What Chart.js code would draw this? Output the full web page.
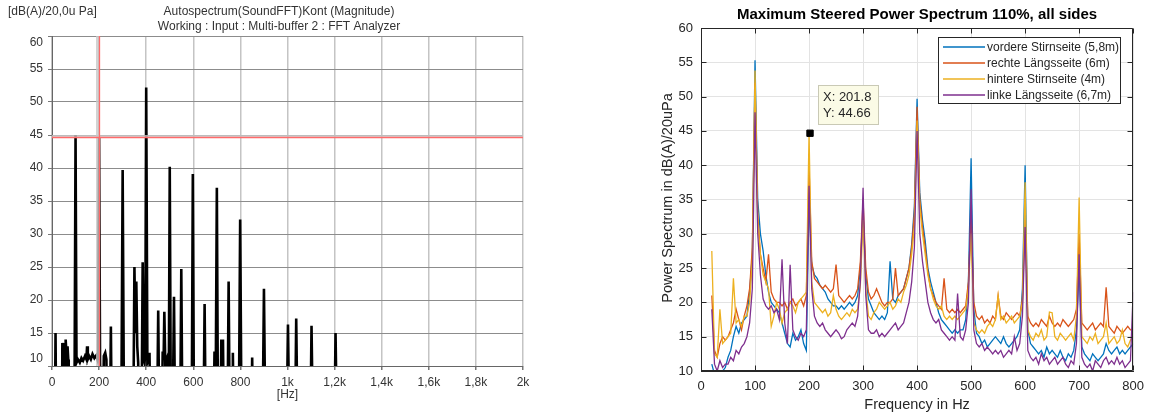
<!DOCTYPE html>
<html><head><meta charset="utf-8">
<script src="https://cdn.jsdelivr.net/npm/chart.js@4.4.1/dist/chart.umd.min.js"></script>
<style>
html,body{margin:0;padding:0;background:#fff;width:1152px;height:415px;overflow:hidden}
#c1{position:absolute;left:0;top:0}
#c2{position:absolute;left:600px;top:0}
</style></head><body>
<canvas id="c1" width="560" height="415"></canvas>
<canvas id="c2" width="552" height="415"></canvas>
<script>
// ---------- LEFT CHART DATA ----------
const leftTitle1 = 'Autospectrum(SoundFFT)Kont (Magnitude)';
const leftTitle2 = 'Working : Input : Multi-buffer 2 : FFT Analyzer';
const leftUnit = '[dB(A)/20,0u Pa]';
const leftXUnit = '[Hz]';
const leftXTicks = [0,200,400,600,800,1000,1200,1400,1600,1800,2000];
const leftXTickLabels = ['0','200','400','600','800','1k','1,2k','1,4k','1,6k','1,8k','2k'];
const leftYTicks = [10,15,20,25,30,35,40,45,50,55,60];
const leftFreq = [0, 12,15,18, 42,44,47,50,53, 56,58,61,64,66,69,71,
  95,100,104,110,118,125,132,140,146,149,152,158,165,172,180,188,193,196,200,204,210,
  216,220,226,231,235, 246,250,254, 294,300,306, 345,350,354,358,362,366,370,
  380,385,389,393,396,400,405,410,414,418, 446,451,456, 466,470,474,477,481,486,490,
  495,500,505, 512,518,523, 544,549,554, 593,598,603, 643,648,653,
  686,690,694,695,700,705, 715,719,722,726,730, 745,750,755, 765,768,772,
  793,799,805, 846,850,854, 894,900,906, 996,1002,1008, 1032,1037,1043,
  1097,1102,1108, 1199,1204,1210, 2000];
const leftLevel = [0, 0,15,0, 0,13.5,12.5,13.5,0, 0,14,12,11,13,11,0,
  0,45,10.5,11,10.5,11.2,10.8,11.5,11,13,11,11.5,11,11.8,11.2,11.6,11,12,44.7,10.5,0,
  0,11.5,12,11,0, 0,16,0, 0,39.7,0, 0,25,15,22.8,13,10.5,0,
  0,25.7,11,10.5,12,52.2,10.5,11,12,0, 0,18.4,0, 0,12.2,11,18.2,10.5,11,0,
  0,40.2,0, 0,20.5,0, 0,24.7,0, 0,39.1,0, 0,19.4,0,
  0,12.2,0,0,37,0, 0,14,12.5,14,0, 0,22.8,0, 0,12,0,
  0,32.2,0, 0,11.3,0, 0,21.7,0, 0,16.3,0, 0,17.2,0,
  0,16.1,0, 0,15,0, 0];
const leftCursorX = 201.8;
const leftCursorY = 44.66;

// ---------- RIGHT CHART DATA ----------
const rightTitle = 'Maximum Steered Power Spectrum 110%, all sides';
const rightXLabel = 'Frequency in Hz';
const rightYLabel = 'Power Spectrum in dB(A)/20uPa';
const rightSeriesNames = ['vordere Stirnseite (5,8m)','rechte Längsseite (6m)','hintere Stirnseite (4m)','linke Längsseite (6,7m)'];
const rightFreq = [20,25,30,35,40,45,
 50,55,60,65,70,75,80,85,90,95,
 100,105,110,115,120,125,130,135,140,145,
 150,155,160,165,170,175,180,185,190,195,
 200,205,210,215,220,225,230,235,240,245,
 250,255,260,265,270,275,280,285,290,295,
 300,305,310,315,320,325,330,335,340,345,
 350,355,360,365,370,375,380,385,390,395,
 400,405,410,415,420,425,430,435,440,445,
 450,455,460,465,470,475,480,485,490,495,
 500,505,510,515,520,525,530,535,540,545,
 550,555,560,565,570,575,580,585,590,595,
 600,605,610,615,620,625,630,635,640,645,
 650,655,660,665,670,675,680,685,690,695,
 700,705,710,715,720,725,730,735,740,745,
 750,755,760,765,770,775,780,785,790,795,
 800];
const vordere = [11,9.5,9,9,10,10.5,
 12,13,15,16.5,15.5,17,17.5,18,21.5,27,
 55.3,35,30,27.5,24,21.5,20,19.5,19,18.5,
 17,15.5,14,13.5,15.5,14.5,15,16,14,13,
 35,25.5,24,23.5,22.5,22,21.5,20.5,20,19.5,
 19.5,19,19.5,19,19.5,20,19.5,20,21,25,
 33,24,20.5,19.5,18.5,18,17.5,18,17.5,18.5,
 26,20.5,20,21,21.5,22,23.5,25,28.5,34,
 49.7,36,32,29,25,23,21.5,20,18.5,17.5,
 17,16.5,16,15.5,16,15.5,16,16,17.5,23,
 41,19,15.5,15,14,14.5,13.5,14,14.5,15,
 14.5,14,15,14,13.5,14,14.5,15,16,22,
 40,16,14,13.5,13,12.5,13,12,13.5,12.5,
 13,12.5,12,13,12,11.5,12.5,12,13,16,
 25,13.5,12.5,12,11.5,12.5,12,11.5,12,12.5,
 14,13,12.5,13,13.5,12.5,13,12.5,13,13.5,
 14];
const rechte = [21,13,12,14,15,14.5,
 15,16,17,19,17.5,16,18,19.5,22,28,
 52,33,27,25,23,27,21.5,20.5,20,20,
 19.5,20,19,20,20.5,19.5,20,20.5,19.5,21,
 40,26,23.5,23,22.5,22,22.5,22,21.5,22,
 25.5,21,20.5,20,20.5,21,20.5,21,22,26,
 35,25,21.5,20.5,21,22,21,20,19.5,20,
 20,20.5,25,21,21.5,22,23.5,25,28,33,
 48.5,35,31,28,24.5,22,21,20,19.5,19,
 23.5,19,18.5,19,18.5,19,18.5,19,19.5,23,
 33,20,18,17.5,18,17,17.5,17,18,17.5,
 21,18,17.5,18.5,18,17.5,18,18.5,18,20.5,
 32,18,17,16.5,17,16.5,17.5,17,16.5,18,
 17,16.5,17,16.5,17.5,17,16.5,17,17.5,19,
 30,17,16.5,16,16.5,17,16,16.5,17,16.5,
 22.2,16.5,16,15.5,16.5,16,15.5,16,16.5,16,
 16];
const hintere = [27.5,12.5,12,19,14,14.5,
 15,15.5,23.5,17,17.5,16.5,18,18,20,26,
 53.8,32,27,24,23,22,16.5,18,20,19,
 17,18.5,19,20,19.5,18.5,20,20.5,21,21.5,
 44.66,23,20,19.5,19,18.5,19,18,18.5,21,
 19,18,17.5,18,18.5,18,19,18.5,19,22.5,
 32,22,18,17.5,18.5,19,20,19.5,19,19.5,
 20,19,19.5,20.5,20,21.5,22.5,24,27,31,
 46.5,34,30,27,24,22,20.5,19.5,19,19.5,
 18,17.5,18,17.5,18,17.5,18,18.5,19,22,
 30,17,16,15.5,16,15.5,16.5,17,16.5,17.5,
 21,17.5,18,17,17.5,18,17,17.5,18,20,
 37.5,16,15,14.5,15.5,15,16,14.5,15,18.6,
 18.5,15,14.5,15.5,15,14.5,15,15.5,14.5,18,
 35.3,15,14.5,14,15,14.5,15.5,14,14.5,15,
 17,14,14.5,15,14,14.5,16,14,13.5,14.5,
 15];
const linke = [19,11,10,11.5,10.5,11,
 11,12,11.5,13,12.5,13.5,14,15,17,22,
 47.7,30,24,20.5,19.5,19,19.5,18.5,19,17.5,
 26.3,17,14,25.5,16,15,14.5,15.5,15,16,
 37,22,18,17,16.5,17,16,15.5,15,15.5,
 16,15.5,14.7,15,16,16.5,17,16.5,18,23,
 36.7,21,16,15.5,15.5,16,15,15.5,15,15.5,
 16,16.5,17,16,16.5,17,18.5,20,23,28,
 45,30,26,23,20,18.5,17.5,17,17.5,16,
 15.5,15,14.5,15,14.5,21.3,15,14.5,16,20,
 36.5,16,14,13.5,14,13,13.5,13,12.5,13,
 12.5,13,12,12.5,13,12.5,15,13,14,18,
 31,13,12,11.5,12,11,12.5,11.5,12,11,
 11.5,12,11,11.5,12,11,10.5,11.5,11,14,
 27,12,11,10.5,11,10,11.5,11,10.5,11.5,
 12,11,11.5,11,12,11,11.5,10.5,11,11.5,
 21.5];
const rightColors = ['#0072BD','#D95319','#EDB120','#7E2F8E'];
const rightXTicks = [0,100,200,300,400,500,600,700,800];
const rightYTicks = [10,15,20,25,30,35,40,45,50,55,60];
const tipX = 201.8;
const tipY = 44.66;

const FONT = "'Liberation Sans', Arial, sans-serif";
const pts = (xs, ys) => xs.map((x, i) => ({x, y: ys[i]}));

// ---------- LEFT CHART ----------
const leftDecor = {
  id: 'leftDecor',
  afterDatasetsDraw(chart) {
    const {ctx, chartArea: a, scales: {x, y}} = chart;
    const cx = Math.round(x.getPixelForValue(leftCursorX));
    const cy = Math.round(y.getPixelForValue(leftCursorY));
    ctx.save();
    ctx.fillStyle = 'rgba(200,200,200,0.8)';
    ctx.fillRect(a.left, cy - 2, a.right - a.left, 3);
    ctx.fillRect(cx - 4, a.top, 3, a.bottom - a.top);
    ctx.strokeStyle = '#ff6a6a';
    ctx.lineWidth = 1.3;
    ctx.beginPath();
    ctx.moveTo(a.left, cy + 0.5); ctx.lineTo(a.right, cy + 0.5);
    ctx.moveTo(cx - 0.5, a.top); ctx.lineTo(cx - 0.5, a.bottom);
    ctx.stroke();
    ctx.restore();
  },
  afterDraw(chart) {
    const {ctx, scales: {x, y}} = chart;
    ctx.save();
    ctx.fillStyle = '#333';
    ctx.font = '12px ' + FONT;
    ctx.textBaseline = 'middle';
    ctx.textAlign = 'left';
    ctx.fillText(leftUnit, 8, 12);
    ctx.textAlign = 'center';
    ctx.fillText(leftTitle1, 279, 12);
    ctx.fillText(leftTitle2, 279, 27);
    ctx.fillText(leftXUnit, x.getPixelForValue(1000), 395);
    // end labels of the y axis sit inside the range, as in the original
    ctx.textAlign = 'right';
    ctx.fillText(String(y.max), 43, y.getPixelForValue(y.max) + 7);
    ctx.fillText(String(y.min), 43, y.getPixelForValue(y.min) - 7);
    ctx.restore();
  }
};

new Chart(document.getElementById('c1'), {
  type: 'line',
  data: { datasets: [{
    data: pts(leftFreq, leftLevel),
    borderColor: '#000', borderWidth: 2.6, pointRadius: 0, tension: 0, clip: 0
  }]},
  options: {
    responsive: false, animation: false, events: [], devicePixelRatio: 1,
    layout: { padding: { left: 0, right: 37, top: 36, bottom: 0 } },
    plugins: { legend: { display: false }, tooltip: { enabled: false }, title: { display: false } },
    scales: {
      x: {
        type: 'linear', min: 0, max: 2000,
        afterBuildTicks: s => { s.ticks = leftXTicks.map(v => ({ value: v })); },
        afterFit: s => { s.height = 49; },
        ticks: { callback: (v, i) => leftXTickLabels[i], font: { family: FONT, size: 12 }, color: '#333', padding: 5, maxRotation: 0, autoSkip: false },
        grid: { color: '#c4c4c4', lineWidth: 1.5, tickLength: 4, tickColor: '#777' },
        border: { color: '#666', width: 1 }
      },
      y: {
        min: 10, max: 60,
        afterBuildTicks: s => { s.ticks = leftYTicks.map(v => ({ value: v })); },
        afterFit: s => { s.width = 52; },
        ticks: { callback: (v) => (v === 10 || v === 60) ? '' : String(v), font: { family: FONT, size: 12 }, color: '#333', padding: 5 },
        grid: { color: '#8c8c8c', lineWidth: 1, tickLength: 4, tickColor: '#777' },
        border: { color: '#666', width: 1 }
      }
    }
  },
  plugins: [leftDecor]
});

// ---------- RIGHT CHART ----------
const rightDecor = {
  id: 'rightDecor',
  afterDraw(chart) {
    const {ctx, chartArea: a, scales: {x, y}} = chart;
    ctx.save();
    const L = Math.round(a.left) + 0.5, R = Math.round(a.right) - 0.5;
    const T = Math.round(a.top) + 0.5, B = Math.round(a.bottom) - 0.5;
    ctx.strokeStyle = '#262626'; ctx.lineWidth = 1;
    ctx.beginPath();
    ctx.rect(L, T, R - L, B - T);
    x.ticks.forEach(t => {
      const p = Math.round(x.getPixelForValue(t.value)) + 0.5;
      ctx.moveTo(p, B); ctx.lineTo(p, B - 5);
      ctx.moveTo(p, T); ctx.lineTo(p, T + 5);
    });
    y.ticks.forEach(t => {
      const p = Math.round(y.getPixelForValue(t.value)) + 0.5;
      ctx.moveTo(L, p); ctx.lineTo(L + 5, p);
      ctx.moveTo(R, p); ctx.lineTo(R - 5, p);
    });
    ctx.stroke();

    // titles
    ctx.fillStyle = '#000';
    ctx.textAlign = 'center'; ctx.textBaseline = 'middle';
    ctx.font = 'bold 15px ' + FONT;
    ctx.fillText(rightTitle, (a.left + a.right) / 2, 15);
    ctx.fillStyle = '#262626';
    ctx.font = '14.5px ' + FONT;
    ctx.fillText(rightXLabel, (a.left + a.right) / 2, 405);
    ctx.save();
    ctx.translate(68, 198);
    ctx.rotate(-Math.PI / 2);
    ctx.fillText(rightYLabel, 0, 0);
    ctx.restore();

    // legend
    const lx = 338, ly = 37, lw = 182, lh = 66;
    ctx.fillStyle = '#fff';
    ctx.fillRect(lx, ly, lw, lh);
    ctx.strokeStyle = '#262626'; ctx.lineWidth = 1;
    ctx.strokeRect(lx + 0.5, ly + 0.5, lw, lh);
    ctx.font = '12px ' + FONT;
    ctx.textAlign = 'left';
    rightSeriesNames.forEach((n, i) => {
      const yy = ly + 10 + i * 16;
      ctx.beginPath();
      ctx.strokeStyle = rightColors[i]; ctx.lineWidth = 1.6;
      ctx.moveTo(lx + 5, yy); ctx.lineTo(lx + 47, yy);
      ctx.stroke();
      ctx.fillStyle = '#262626';
      ctx.fillText(n, lx + 49, yy + 1);
    });

    // datatip
    const bx = 218, by = 85, bw = 60, bh = 39;
    ctx.fillStyle = '#fbfbe6';
    ctx.fillRect(bx, by, bw, bh);
    ctx.strokeStyle = '#c9c9b5'; ctx.lineWidth = 1;
    ctx.strokeRect(bx + 0.5, by + 0.5, bw, bh);
    ctx.fillStyle = '#262626';
    ctx.font = '13px ' + FONT;
    ctx.fillText('X: ' + tipX, bx + 5, by + 12);
    ctx.fillText('Y: ' + tipY, bx + 5, by + 28);
    ctx.restore();
  }
};

const rightDatasets = [vordere, rechte, hintere, linke].map((vals, i) => ({
  label: rightSeriesNames[i],
  data: pts(rightFreq, vals),
  borderColor: rightColors[i], borderWidth: 1.3, pointRadius: 0, tension: 0,
  order: 4 - i, clip: 0
}));
rightDatasets.push({
  label: 'tip', type: 'scatter', data: [{ x: tipX, y: tipY }],
  pointStyle: 'rect', pointRadius: 4.5, backgroundColor: '#000', borderColor: '#000', order: -1, clip: false
});

new Chart(document.getElementById('c2'), {
  type: 'line',
  data: { datasets: rightDatasets },
  options: {
    responsive: false, animation: false, events: [], devicePixelRatio: 1,
    layout: { padding: { left: 0, right: 12, top: 28, bottom: 0 } },
    plugins: { legend: { display: false }, tooltip: { enabled: false }, title: { display: false } },
    scales: {
      x: {
        type: 'linear', min: 0, max: 800,
        afterBuildTicks: s => { s.ticks = rightXTicks.map(v => ({ value: v })); },
        afterFit: s => { s.height = 44; },
        ticks: { font: { family: FONT, size: 13 }, color: '#262626', padding: 8, maxRotation: 0, autoSkip: false },
        grid: { color: '#e3e3e3', lineWidth: 1, drawTicks: false },
        border: { color: '#262626', width: 1 }
      },
      y: {
        min: 10, max: 60,
        afterBuildTicks: s => { s.ticks = rightYTicks.map(v => ({ value: v })); },
        afterFit: s => { s.width = 101; },
        ticks: { font: { family: FONT, size: 13 }, color: '#262626', padding: 8 },
        grid: { color: '#e3e3e3', lineWidth: 1, drawTicks: false },
        border: { color: '#262626', width: 1 }
      }
    }
  },
  plugins: [rightDecor]
});
</script></body></html>
